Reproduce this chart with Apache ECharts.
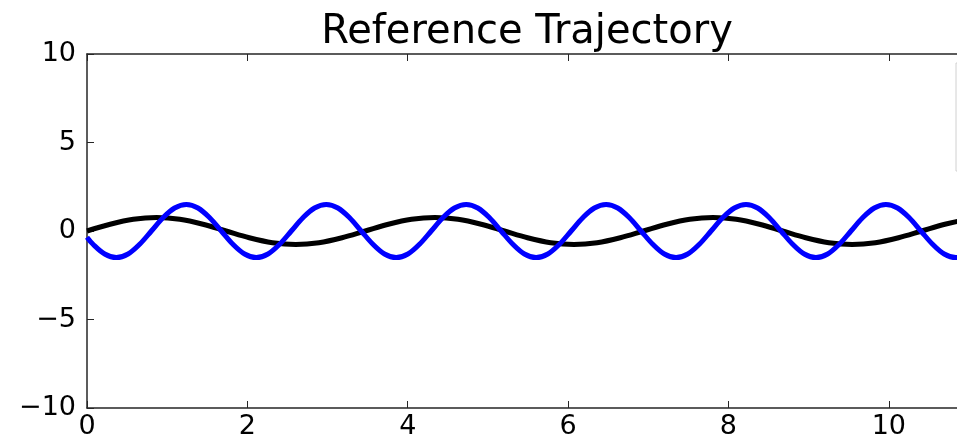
<!DOCTYPE html>
<html>
<head>
<meta charset="utf-8">
<script src="https://cdn.jsdelivr.net/npm/echarts@6/dist/echarts.min.js"></script>
<style>
  html, body { margin: 0; padding: 0; background: #fff; }
  #chart { width: 957px; height: 440px; }
</style>
</head>
<body>
<div id="chart"></div>
<script>
// 검은 선 (느린 궤적)
var blackT = [0, 0.289, 0.578, 0.868, 1.157, 1.446, 1.735, 2.024, 2.313, 2.603, 2.892, 3.181,
  3.47, 3.759, 4.048, 4.338, 4.627, 4.916, 5.205, 5.494, 5.783, 6.073, 6.362, 6.651,
  6.94, 7.229, 7.518, 7.808, 8.097, 8.386, 8.675, 8.964, 9.253, 9.543, 9.832, 10.121,
  10.41, 10.699, 10.988];
var blackV = [0, 0.38, 0.66, 0.76, 0.66, 0.38, 0, -0.38, -0.66, -0.76, -0.66, -0.38,
  0, 0.38, 0.66, 0.76, 0.66, 0.38, 0, -0.38, -0.66, -0.76, -0.66, -0.38,
  0, 0.38, 0.66, 0.76, 0.66, 0.38, 0, -0.38, -0.66, -0.76, -0.66, -0.38,
  0, 0.38, 0.66];

// 파란 선 (빠른 궤적)
var blueT = [0, 0.075, 0.221, 0.366, 0.512, 0.657, 0.803, 0.948, 1.093, 1.239, 1.384, 1.530,
  1.675, 1.820, 1.966, 2.111, 2.257, 2.402, 2.548, 2.693, 2.838, 2.984, 3.129, 3.275,
  3.420, 3.566, 3.711, 3.856, 4.002, 4.147, 4.293, 4.438, 4.583, 4.729, 4.874, 5.020,
  5.165, 5.311, 5.456, 5.601, 5.747, 5.892, 6.038, 6.183, 6.328, 6.474, 6.619, 6.765,
  6.910, 7.056, 7.201, 7.346, 7.492, 7.637, 7.783, 7.928, 8.074, 8.219, 8.364, 8.510,
  8.655, 8.801, 8.946, 9.091, 9.237, 9.382, 9.528, 9.673, 9.819, 9.964, 10.109, 10.255,
  10.400, 10.546, 10.691, 10.836, 10.982];
var blueV = [-0.35, -0.75, -1.3, -1.5, -1.3, -0.75, 0, 0.75, 1.3, 1.5, 1.3, 0.75,
  0, -0.75, -1.3, -1.5, -1.3, -0.75, 0, 0.75, 1.3, 1.5, 1.3, 0.75,
  0, -0.75, -1.3, -1.5, -1.3, -0.75, 0, 0.75, 1.3, 1.5, 1.3, 0.75,
  0, -0.75, -1.3, -1.5, -1.3, -0.75, 0, 0.75, 1.3, 1.5, 1.3, 0.75,
  0, -0.75, -1.3, -1.5, -1.3, -0.75, 0, 0.75, 1.3, 1.5, 1.3, 0.75,
  0, -0.75, -1.3, -1.5, -1.3, -0.75, 0, 0.75, 1.3, 1.5, 1.3, 0.75,
  0, -0.75, -1.3, -1.5, -1.3];

// 축 범위
var xMin = 0, xMax = 11, xStep = 2;
var yMin = -10, yMax = 10, yStep = 5;

function pairs(ts, vs) {
  var out = [];
  for (var i = 0; i < ts.length; i++) out.push([ts[i], vs[i]]);
  return out;
}

function minusSign(v) {
  return String(v).replace('-', '\u2212');
}

var FONT = 'DejaVu Sans';
var AXIS_COLOR = '#262626';

var chart = echarts.init(document.getElementById('chart'));

var option = {
  animation: false,
  backgroundColor: '#fff',
  textStyle: { fontFamily: FONT },
  title: {
    text: 'Reference Trajectory',
    left: 522,
    textAlign: 'center',
    top: 8,
    textStyle: { fontFamily: FONT, fontSize: 40, fontWeight: 'normal', color: '#000' }
  },
  legend: {
    left: 956,
    top: 63,
    orient: 'vertical',
    padding: [30, 10],
    itemGap: 20,
    itemHeight: 14,
    borderColor: '#d0d0d0',
    borderWidth: 1,
    textStyle: { fontFamily: FONT, fontSize: 14 },
    data: ['reference x', 'reference y']
  },
  grid: {
    left: 87,
    right: -12,
    top: 54,
    bottom: 32,
    containLabel: false,
    outerBoundsMode: 'none'
  },
  xAxis: [
    {
      type: 'value',
      min: xMin, max: xMax, interval: xStep,
      position: 'bottom',
      splitLine: { show: false },
      axisLine: { show: true, onZero: false, lineStyle: { color: AXIS_COLOR, width: 1.5 } },
      axisTick: { show: true, inside: true, length: 7, lineStyle: { color: AXIS_COLOR } },
      axisLabel: { fontFamily: FONT, fontSize: 27, color: '#000', margin: 5, showMaxLabel: false }
    },
    {
      type: 'value',
      min: xMin, max: xMax, interval: xStep,
      position: 'top',
      splitLine: { show: false },
      axisLine: { show: true, onZero: false, lineStyle: { color: AXIS_COLOR, width: 1.5 } },
      axisTick: { show: true, inside: true, length: 7, lineStyle: { color: AXIS_COLOR } },
      axisLabel: { show: false }
    }
  ],
  yAxis: [
    {
      type: 'value',
      min: yMin, max: yMax, interval: yStep,
      position: 'left',
      splitLine: { show: false },
      axisLine: { show: true, onZero: false, lineStyle: { color: AXIS_COLOR, width: 1.5 } },
      axisTick: { show: true, inside: true, length: 7, lineStyle: { color: AXIS_COLOR } },
      axisLabel: { fontFamily: FONT, fontSize: 27, color: '#000', margin: 11, formatter: minusSign }
    },
    {
      type: 'value',
      min: yMin, max: yMax, interval: yStep,
      position: 'right',
      splitLine: { show: false },
      axisLine: { show: true, onZero: false, lineStyle: { color: AXIS_COLOR, width: 1.5 } },
      axisTick: { show: true, inside: true, length: 7, lineStyle: { color: AXIS_COLOR } },
      axisLabel: { show: false }
    }
  ],
  series: [
    {
      name: 'reference x',
      type: 'line',
      data: pairs(blackT, blackV),
      smooth: 0.35,
      showSymbol: false,
      clip: true,
      lineStyle: { color: '#000', width: 5 },
      itemStyle: { color: '#000' }
    },
    {
      name: 'reference y',
      type: 'line',
      data: pairs(blueT, blueV),
      smooth: 0.35,
      showSymbol: false,
      clip: true,
      lineStyle: { color: '#0000ff', width: 5 },
      itemStyle: { color: '#0000ff' }
    }
  ]
};

chart.setOption(option);
</script>
</body>
</html>
